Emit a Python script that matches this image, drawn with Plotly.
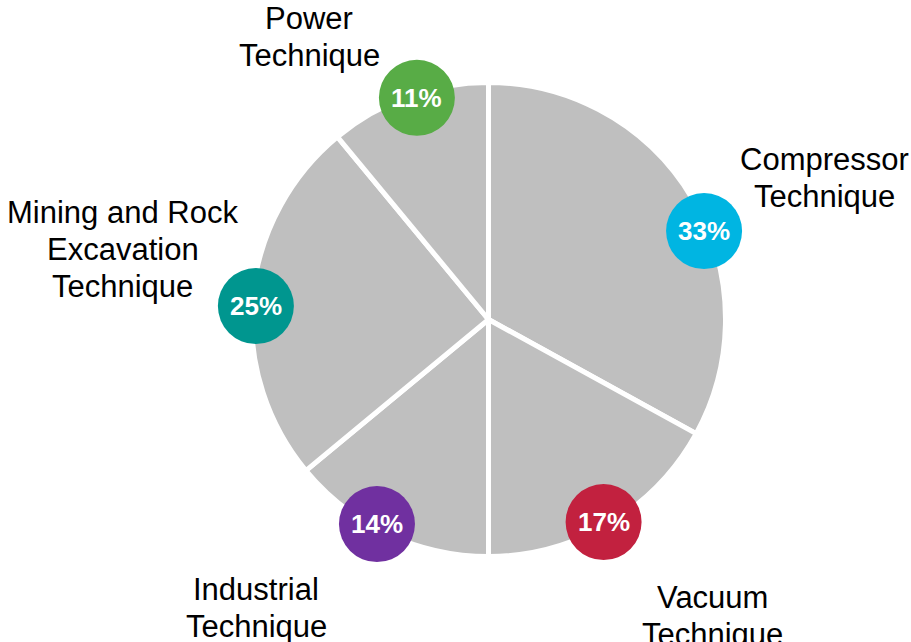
import math
import plotly.graph_objects as go

# ---- data ----
segments = ["Compressor Technique", "Vacuum Technique", "Industrial Technique",
            "Mining and Rock Excavation Technique", "Power Technique"]
shares = [33, 17, 14, 25, 11]
label_lines = [["Compressor", "Technique"], ["Vacuum", "Technique"],
               ["Industrial", "Technique"], ["Mining and Rock", "Excavation", "Technique"],
               ["Power", "Technique"]]

# ---- layout / style ----
W, H = 911, 642
CX, CY, R = 488.5, 319.5, 237
badge_colors = ["#00B5E2", "#C2213F", "#7030A0", "#00968F", "#58AC46"]
badge_angles = [67.7, 150.4, 208.6, 273.3, 342.1]   # degrees clockwise from 12 o'clock
badge_r = 38
badge_dist = 233
# label placement: (center x px, first baseline px)
label_pos = [(824, 170), (712, 608), (256, 600), (122.5, 223), (309, 29)]
LINE = 37
FS = 31

def px(x):
    return x / W

def py(y):
    return 1 - y / H

fig = go.Figure(go.Pie(
    labels=segments, values=shares, sort=False, direction="clockwise", rotation=0,
    marker=dict(colors=["#BFBFBF"] * len(shares), line=dict(color="white", width=5)),
    textinfo="none", hoverinfo="label+percent", showlegend=False,
    domain=dict(x=[px(CX - R), px(CX + R)], y=[py(CY + R), py(CY - R)]),
))

shapes = []
annotations = []
for i, v in enumerate(shares):
    a = math.radians(badge_angles[i])
    bx = CX + badge_dist * math.sin(a)
    by = CY - badge_dist * math.cos(a)
    shapes.append(dict(type="circle", xref="paper", yref="paper", layer="above",
                       x0=px(bx - badge_r), x1=px(bx + badge_r),
                       y0=py(by + badge_r), y1=py(by - badge_r),
                       fillcolor=badge_colors[i], line=dict(width=0)))
    annotations.append(dict(x=px(bx), y=py(by), xref="paper", yref="paper",
                            text=f"<b>{v}%</b>", showarrow=False,
                            xanchor="center", yanchor="middle",
                            font=dict(family="Liberation Sans, Arial", size=26, color="white")))
    lx, lb = label_pos[i]
    for j, line in enumerate(label_lines[i]):
        base = lb + j * LINE
        annotations.append(dict(x=px(lx), y=py(base - 0.35 * FS), xref="paper", yref="paper",
                                text=line, showarrow=False, xanchor="center", yanchor="middle",
                                font=dict(family="Liberation Sans, Arial", size=FS, color="black")))

fig.update_layout(width=W, height=H, margin=dict(l=0, r=0, t=0, b=0),
                  paper_bgcolor="white", plot_bgcolor="white",
                  shapes=shapes, annotations=annotations)
fig.write_html("out.html", config={"displayModeBar": False},
               post_script="document.body.style.margin='0';document.body.style.padding='0';document.body.style.overflow='hidden';")
